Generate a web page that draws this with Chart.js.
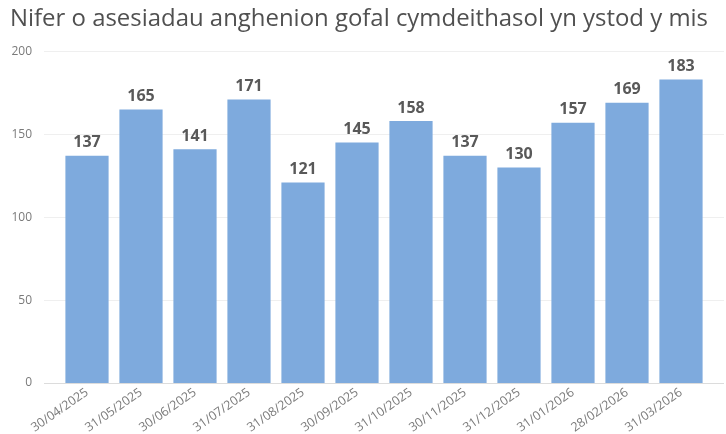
<!DOCTYPE html>
<html>
<head>
<meta charset="utf-8">
<script src="https://cdn.jsdelivr.net/npm/chart.js@4"></script>
<style>
    html, body { margin: 0; padding: 0; background: #fff; }
    #wrap { width: 726px; height: 434px; }
</style>
</head>
<body>
<div id="wrap"><canvas id="chart"></canvas></div>
<script>
const months = ["30/04/2025", "31/05/2025", "30/06/2025", "31/07/2025", "31/08/2025", "30/09/2025",
    "31/10/2025", "30/11/2025", "31/12/2025", "31/01/2026", "28/02/2026", "31/03/2026"];
const assessments = [137, 165, 141, 171, 121, 145, 158, 137, 130, 157, 169, 183];
const yTicks = [0, 50, 100, 150, 200];

const fontName = "'Open Sans', 'Noto Sans', sans-serif";

// gridlines stick out past the bars on both sides, like the original
const wideGrid = {
    id: "wideGrid",
    beforeDatasetsDraw(chart) {
        const { ctx, chartArea, scales } = chart;
        ctx.save();
        yTicks.forEach(v => {
            const y = Math.round(scales.y.getPixelForValue(v)) + 0.5;
            ctx.strokeStyle = v === 0 ? "#dcdcdc" : "#efefef";
            ctx.lineWidth = 1;
            ctx.beginPath();
            ctx.moveTo(chartArea.left - 16, y);
            ctx.lineTo(chartArea.right + 16, y);
            ctx.stroke();
        });
        ctx.restore();
    }
};

// value labels on top of each bar
const barValues = {
    id: "barValues",
    afterDatasetsDraw(chart) {
        const { ctx } = chart;
        const meta = chart.getDatasetMeta(0);
        ctx.save();
        ctx.font = "bold 16px " + fontName;
        ctx.fillStyle = "#595959";
        ctx.textAlign = "center";
        ctx.textBaseline = "bottom";
        meta.data.forEach((bar, i) => {
            ctx.fillText(assessments[i], bar.x, bar.y - 5);
        });
        ctx.restore();
    }
};

new Chart(document.getElementById("chart"), {
    type: "bar",
    data: {
        labels: months,
        datasets: [{
            data: assessments,
            backgroundColor: "#7eaadd",
            barPercentage: 0.8,
            categoryPercentage: 1.0
        }]
    },
    options: {
        responsive: true,
        maintainAspectRatio: false,
        animation: false,
        layout: { padding: { left: 10, right: 18, top: 0, bottom: 0 } },
        plugins: {
            legend: { display: false },
            tooltip: { enabled: false },
            title: {
                display: true,
                text: "Nifer o asesiadau anghenion gofal cymdeithasol yn ystod y mis",
                align: "start",
                color: "#505050",
                font: { family: fontName, size: 24.5, weight: "normal" },
                padding: { top: 4, bottom: 18 }
            }
        },
        scales: {
            x: {
                afterFit: s => { s.height = 51; },
                grid: { display: false, drawTicks: false },
                border: { display: false },
                ticks: {
                    color: "#7a7a7a",
                    font: { family: fontName, size: 12.5 },
                    minRotation: 35,
                    maxRotation: 35,
                    padding: 2,
                    autoSkip: false
                }
            },
            y: {
                min: 0,
                max: 200,
                afterFit: s => { s.width = 50; },
                grid: { display: false, drawTicks: false },
                border: { display: false },
                ticks: {
                    stepSize: 50,
                    color: "#7a7a7a",
                    font: { family: fontName, size: 12 },
                    padding: 28
                }
            }
        }
    },
    plugins: [wideGrid, barValues]
});
</script>
</body>
</html>
